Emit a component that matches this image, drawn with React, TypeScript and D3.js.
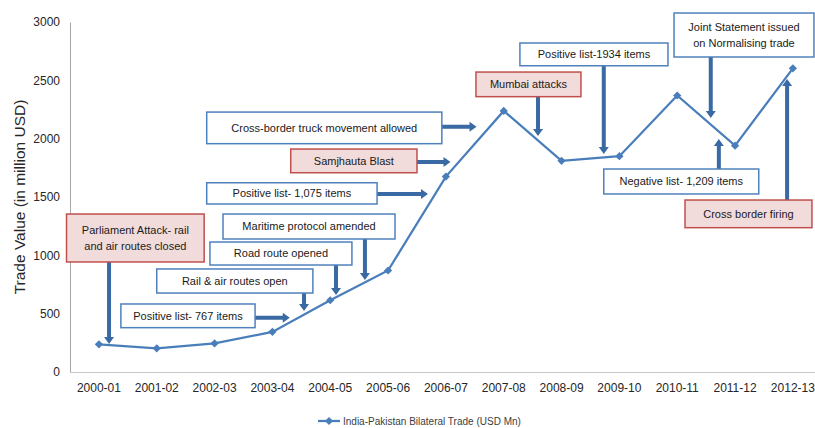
import { useEffect, useRef } from "react";
import * as d3 from "d3";

// India-Pakistan bilateral trade, USD million
const years = [
  "2000-01", "2001-02", "2002-03", "2003-04", "2004-05", "2005-06", "2006-07",
  "2007-08", "2008-09", "2009-10", "2010-11", "2011-12", "2012-13",
];
const tradeValues = [237, 203, 245, 344, 615, 870, 1675, 2238, 1810, 1850, 2370, 1940, 2603];
const yTicks = [0, 500, 1000, 1500, 2000, 2500, 3000];
const seriesName = "India-Pakistan Bilateral Trade (USD Mn)";
const yTitle = "Trade Value (in million USD)";

// event annotations: text lines and whether it was a negative event
const eventLabels = [
  ["Parliament Attack- rail", "and air routes closed"],
  ["Positive list- 767 items"],
  ["Rail & air routes open"],
  ["Road route opened"],
  ["Maritime protocol amended"],
  ["Positive list- 1,075 items"],
  ["Samjhauta Blast"],
  ["Cross-border truck movement allowed"],
  ["Mumbai attacks"],
  ["Positive list-1934 items"],
  ["Joint Statement issued", "on Normalising trade"],
  ["Negative list- 1,209 items"],
  ["Cross border firing"],
];
const eventNegative = [true, false, false, false, false, false, true, false, true, false, false, false, true];

// box placement in chart units: [i0, i1, v0(top), v1(bottom)] and arrow [dir, at, to]
const boxLayout = [
  [-0.56, 1.82, 1354, 943],
  [0.38, 2.70, 583, 380],
  [1.0, 3.70, 883, 677],
  [1.92, 4.375, 1114, 917],
  [2.146, 5.12, 1354, 1140],
  [1.864, 4.81, 1622, 1440],
  [3.317, 5.50, 1911, 1708],
  [1.864, 5.93, 2228, 1957],
  [6.52, 8.335, 2571, 2360],
  [7.28, 9.84, 2820, 2625],
  [9.945, 12.365, 3077, 2700],
  [8.73, 11.41, 1740, 1526],
  [10.135, 12.33, 1474, 1237],
];
// "down"/"up": at = index, to = value; "right": at = value, to = index
const arrowLayout: [string, number, number][] = [
  ["down", 0.175, 240],
  ["right", 465, 3.30],
  ["down", 3.547, 523],
  ["down", 4.10, 660],
  ["down", 4.60, 789],
  ["right", 1526, 5.69],
  ["right", 1800, 6.08],
  ["right", 2102, 6.53],
  ["down", 7.593, 2023],
  ["down", 8.73, 1869],
  ["down", 10.58, 2177],
  ["up", 10.72, 1997],
  ["up", 11.90, 2511],
];

const W = 815;
const H = 428;
const FONT = "'Liberation Sans', Arial, sans-serif";

export default function App() {
  const ref = useRef<SVGSVGElement>(null);

  useEffect(() => {
    if (!ref.current) return;
    const svg = d3.select(ref.current);
    svg.selectAll("*").remove();

    const margin = { top: 22, left: 70, bottom: 56 };
    const step = 57.83;

    const x = d3.scaleBand()
      .domain(years)
      .range([margin.left, margin.left + step * years.length]);
    const xc = (d: string) => x(d)! + x.bandwidth() / 2;
    // fractional category position for annotations
    const xi = d3.scaleLinear()
      .domain([0, years.length - 1])
      .range([xc(years[0]), xc(years[years.length - 1])]);

    const y = d3.scaleLinear()
      .domain([0, 3000])
      .range([H - margin.bottom, margin.top]);

    // axes
    const yAxis = svg.append("g")
      .attr("transform", `translate(${margin.left},0)`)
      .call(d3.axisLeft(y).tickValues(yTicks).tickFormat(d3.format("d")).tickSize(0).tickPadding(10));
    yAxis.select(".domain").attr("stroke", "#a6a6a6");
    yAxis.selectAll("text")
      .attr("font-family", FONT).attr("font-size", 12).attr("fill", "#262626");

    const xAxis = svg.append("g")
      .attr("transform", `translate(0,${H - margin.bottom})`)
      .call(d3.axisBottom(x).tickSize(0).tickPadding(11));
    xAxis.select(".domain").attr("stroke", "#c8c8c8");
    xAxis.selectAll("text")
      .attr("font-family", FONT).attr("font-size", 12).attr("fill", "#262626");

    svg.append("text")
      .attr("transform", `translate(25,${(y(0) + y(3000)) / 2}) rotate(-90)`)
      .attr("text-anchor", "middle")
      .attr("font-family", FONT)
      .attr("font-size", 15.5)
      .attr("fill", "#262626")
      .text(yTitle);

    // series line
    const line = d3.line<number>()
      .x((_, i) => xc(years[i]))
      .y(d => y(d));
    const blue = "#4a7ebb";
    svg.append("path")
      .datum(tradeValues)
      .attr("d", line)
      .attr("fill", "none")
      .attr("stroke", blue)
      .attr("stroke-width", 2.25);

    const diamond = d3.symbol(d3.symbolSquare, 34)();
    svg.append("g")
      .selectAll("path")
      .data(tradeValues)
      .join("path")
      .attr("d", diamond)
      .attr("transform", (d, i) => `translate(${xc(years[i])},${y(d)}) rotate(45)`)
      .attr("fill", blue);

    // annotation arrows
    const arrowColor = "#3a6aa3";
    const arrow = (x1: number, y1: number, x2: number, y2: number) => {
      const len = Math.hypot(x2 - x1, y2 - y1);
      const ux = (x2 - x1) / len, uy = (y2 - y1) / len;
      const px = -uy, py = ux;
      const hw = 2, head = 7, hh = 5;
      const bx = x2 - ux * head, by = y2 - uy * head;
      const pts = [
        [x1 + px * hw, y1 + py * hw],
        [bx + px * hw, by + py * hw],
        [bx + px * hh, by + py * hh],
        [x2, y2],
        [bx - px * hh, by - py * hh],
        [bx - px * hw, by - py * hw],
        [x1 - px * hw, y1 - py * hw],
      ];
      svg.append("path")
        .attr("d", "M" + pts.map(p => p.join(",")).join("L") + "Z")
        .attr("fill", arrowColor);
    };

    boxLayout.forEach((b, k) => {
      const [, i1, v0, v1] = b;
      const bx1 = xi(i1), by0 = y(v0), by1 = y(v1);
      const [dir, at, to] = arrowLayout[k];
      if (dir === "down") arrow(xi(at), by1, xi(at), y(to));
      else if (dir === "up") arrow(xi(at), by0, xi(at), y(to));
      else arrow(bx1, y(at), xi(to), y(at));
    });

    // annotation boxes
    boxLayout.forEach((b, k) => {
      const [i0, i1, v0, v1] = b;
      const bx0 = xi(i0), bx1 = xi(i1), by0 = y(v0), by1 = y(v1);
      const neg = eventNegative[k];
      svg.append("rect")
        .attr("x", bx0).attr("y", by0)
        .attr("width", bx1 - bx0).attr("height", by1 - by0)
        .attr("fill", neg ? "#f2dcdb" : "#ffffff")
        .attr("stroke", neg ? "#c0504d" : "#4f81bd")
        .attr("stroke-width", 1.5);
      const lines = eventLabels[k];
      const cy = (by0 + by1) / 2;
      const lh = 16;
      lines.forEach((t, j) => {
        svg.append("text")
          .attr("x", (bx0 + bx1) / 2)
          .attr("y", cy + (j - (lines.length - 1) / 2) * lh)
          .attr("dy", "0.35em")
          .attr("text-anchor", "middle")
          .attr("font-family", FONT)
          .attr("font-size", 11)
          .attr("fill", "#1a1a1a")
          .text(t);
      });
    });

    // legend
    const lg = svg.append("g").attr("transform", `translate(318,${H - 7})`);
    lg.append("line").attr("x1", 0).attr("x2", 22).attr("y1", 0).attr("y2", 0)
      .attr("stroke", blue).attr("stroke-width", 2.25);
    lg.append("path").attr("d", diamond).attr("transform", "translate(11,0) rotate(45)").attr("fill", blue);
    lg.append("text")
      .attr("x", 25).attr("y", 0).attr("dy", "0.35em")
      .attr("font-family", FONT).attr("font-size", 10).attr("fill", "#404040")
      .text(seriesName);
  }, []);

  return (
    <div style={{ position: "absolute", left: 0, top: 0 }}>
      <svg ref={ref} width={W} height={H} style={{ display: "block", background: "#fff" }} />
    </div>
  );
}
